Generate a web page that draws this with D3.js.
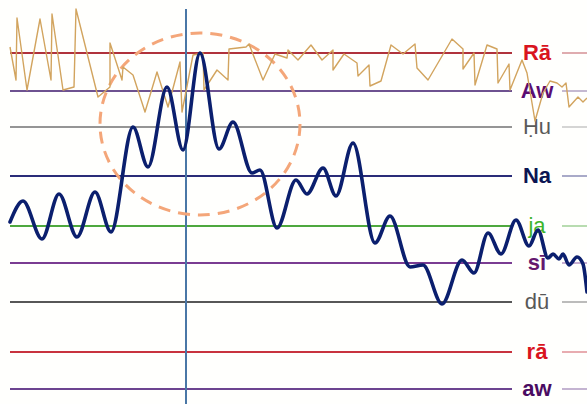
<!DOCTYPE html>
<html>
<head>
<meta charset="utf-8">
<script src="https://cdn.jsdelivr.net/npm/d3@7/dist/d3.min.js"></script>
<style>
  html, body { margin: 0; padding: 0; background: #ffffff; }
  svg { display: block; }
</style>
</head>
<body>
<div id="chart"></div>
<script>
// ---- data ----
// reference pitch levels (cents above lowest "aw")
const levelNames = ["Rā", "Aw", "Ḥu", "Na", "ja", "sī", "dū", "rā", "aw"];
const levelCents = [336, 298, 262, 213, 163, 126, 87, 37, 0];

// pitch contour (time in s, cents)
const pitchTime = [0.00, 0.13, 0.32, 0.49, 0.67, 0.85, 1.01, 1.23, 1.38, 1.57, 1.73, 1.90,
  2.09, 2.23, 2.42, 2.50, 2.67, 2.86, 2.97, 3.13, 3.26, 3.43, 3.65, 3.80, 4.00, 4.13,
  4.32, 4.52, 4.64, 4.78, 4.91, 5.06, 5.19, 5.28, 5.38, 5.43, 5.49, 5.53, 5.59, 5.67, 5.73, 5.77];
const pitchCents = [167, 188, 150, 195, 152, 197, 157, 262, 222, 302, 239, 336,
  240, 267, 216, 219, 161, 209, 195, 221, 193, 246, 146, 173, 122, 124,
  85, 129, 116, 156, 135, 169, 143, 159, 131, 135, 130, 135, 124, 132, 125, 97];

// secondary (raw/unsmoothed) track
const rawTime = [0.00, 0.06, 0.07, 0.17, 0.30, 0.41, 0.42, 0.53, 0.64, 0.66, 0.88, 1.00, 1.00,
  1.12, 1.13, 1.23, 1.35, 1.47, 1.58, 1.70, 1.72, 1.83, 1.93, 1.94, 2.07, 2.18, 2.19, 2.36,
  2.39, 2.53, 2.65, 2.77, 2.78, 2.88, 3.01, 3.12, 3.23, 3.23, 3.34, 3.47, 3.48, 3.59, 3.60,
  3.71, 3.81, 3.93, 4.05, 4.07, 4.18, 4.42, 4.53, 4.53, 4.64, 4.65, 4.77, 4.87, 4.88, 4.99,
  5.00, 5.12, 5.17, 5.25, 5.33, 5.40, 5.47, 5.52, 5.56, 5.59, 5.68, 5.73, 5.77];
const rawCents = [342, 309, 371, 299, 370, 309, 375, 299, 302, 380, 292, 302, 346,
  309, 322, 314, 277, 317, 282, 327, 277, 334, 336, 299, 319, 309, 340, 342,
  345, 309, 335, 331, 339, 329, 344, 329, 339, 319, 335, 326, 313, 324, 303,
  308, 344, 335, 345, 321, 309, 350, 340, 320, 336, 304, 344, 340, 306, 325,
  299, 329, 316, 268, 296, 308, 306, 302, 306, 282, 292, 287, 291];

// highlight and cursor
const highlightCenter = [1.90, 265];
const highlightRadius = [1.00, 91];
const cursorTime = 1.76;

// ---- styles ----
const labelColors = ["#d9141e", "#5a0c72", "#5a5a5a", "#0b1552", "#3db52a", "#65186e", "#585858", "#d9141e", "#4a0c62"];
const lineColors  = ["#b0323c", "#6e5290", "#959595", "#2a2c78", "#4ea83e", "#7a3c92", "#575757", "#c8323e", "#6c4490"];
const labelWeights = ["bold", "bold", "normal", "bold", "normal", "bold", "normal", "bold", "bold"];

const W = 587, H = 404;
const x = d3.scaleLinear().domain([0, 5.77]).range([10, 587]);
const y = d3.scaleLinear().domain([0, 336]).range([389, 53]);

const svg = d3.select("#chart").append("svg").attr("width", W).attr("height", H);
svg.append("rect").attr("width", W).attr("height", H).attr("fill", "#fffffd");

const levels = levelNames.map((n, i) => ({ name: n, cents: levelCents[i], i }));

// level lines
const g = svg.append("g");
g.selectAll("line.main").data(levels).join("line")
  .attr("class", "main")
  .attr("x1", x(0)).attr("x2", x(5.02))
  .attr("y1", d => y(d.cents)).attr("y2", d => y(d.cents))
  .attr("stroke", d => lineColors[d.i]).attr("stroke-width", 1.8);
g.selectAll("line.tail").data(levels).join("line")
  .attr("class", "tail")
  .attr("x1", x(5.52)).attr("x2", x(5.77))
  .attr("y1", d => y(d.cents)).attr("y2", d => y(d.cents))
  .attr("stroke", d => lineColors[d.i]).attr("stroke-opacity", 0.5).attr("stroke-width", 1.6);
g.selectAll("text").data(levels).join("text")
  .attr("x", x(5.27)).attr("y", d => y(d.cents) + 6.5)
  .attr("text-anchor", "middle")
  .attr("font-family", "'Liberation Sans', Arial, Helvetica, sans-serif")
  .attr("font-size", 22)
  .attr("font-weight", d => labelWeights[d.i])
  .attr("fill", d => labelColors[d.i])
  .text(d => d.name);

// cursor
svg.append("line")
  .attr("x1", x(cursorTime)).attr("x2", x(cursorTime))
  .attr("y1", y(380)).attr("y2", y(-20))
  .attr("stroke", "#4a77a6").attr("stroke-width", 2);

// highlight ellipse
svg.append("ellipse")
  .attr("cx", x(highlightCenter[0])).attr("cy", y(highlightCenter[1]))
  .attr("rx", x(highlightCenter[0] + highlightRadius[0]) - x(highlightCenter[0]))
  .attr("ry", y(highlightCenter[1] - highlightRadius[1]) - y(highlightCenter[1]))
  .attr("fill", "none").attr("stroke", "#f4a679").attr("stroke-width", 3)
  .attr("stroke-dasharray", "12,8");

// raw track
const rawData = rawTime.map((t, i) => [t, rawCents[i]]);
svg.append("path").datum(rawData)
  .attr("d", d3.line().x(d => x(d[0])).y(d => y(d[1])))
  .attr("fill", "none").attr("stroke", "#d2a45e").attr("stroke-width", 1.4)
  .attr("stroke-linejoin", "round");

// pitch contour
const pitchData = pitchTime.map((t, i) => [t, pitchCents[i]]);
svg.append("path").datum(pitchData)
  .attr("d", d3.line().x(d => x(d[0])).y(d => y(d[1])).curve(d3.curveMonotoneX))
  .attr("fill", "none").attr("stroke", "#0b1f6e").attr("stroke-width", 3.6)
  .attr("stroke-linejoin", "round").attr("stroke-linecap", "round");
</script>
</body>
</html>
